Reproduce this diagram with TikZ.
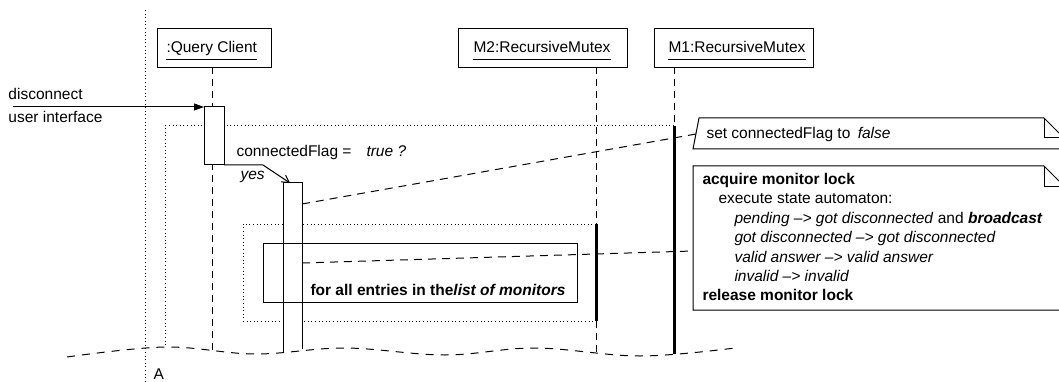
\documentclass[tikz,border=0pt]{standalone}
\usepackage{fontspec}
\setmainfont{Liberation Sans}
\usetikzlibrary{arrows.meta}
\begin{document}
\begin{tikzpicture}[x=1pt,y=-1pt,
  font=\fontsize{15.5}{19.4}\selectfont,
  line width=1pt,
  lifeline/.style={dash pattern=on 7pt off 5pt},
  frameline/.style={dash pattern=on 1pt off 2.6pt},
  msgdash/.style={dash pattern=on 8pt off 6pt},
  objbox/.style={draw,fill=white,inner sep=0pt,anchor=north west},
  lockbar/.style={line width=3pt},
  lbl/.style={anchor=base west,inner sep=0pt},
  notebody/.style={draw,fill=white},
]
\clip (0,0) rectangle (1059,382);
\fill[white] (0,0) rectangle (1059,382);

% --- named anchor points -------------------------------------------------
\coordinate (axisTop) at (145,10);
\coordinate (axisBot) at (145,382);
\coordinate (qcLifeTop) at (212,67);
\coordinate (qcLifeBot) at (212,351);
\coordinate (m2LifeTop) at (596,67);
\coordinate (m2LockTop) at (596,224);
\coordinate (m2LockBot) at (596,321);
\coordinate (m2LifeBot) at (596,352);
\coordinate (m1LifeTop) at (674,67);
\coordinate (m1LockTop) at (674,126);
\coordinate (m1LockBot) at (674,354);
\coordinate (callStart) at (13,107);
\coordinate (callEnd) at (204,107);
\coordinate (actOneNE) at (224,107);
\coordinate (actOneSW) at (204,165);
\coordinate (actOneSE) at (224,165);
\coordinate (flagBend) at (263,165);
\coordinate (flagTip) at (290,183);
\coordinate (actTwoTL) at (283,183);
\coordinate (actTwoTR) at (302,183);
\coordinate (actTwoBL) at (283,352);
\coordinate (actTwoBR) at (302,349);
\coordinate (actTwoOut1) at (302,204);
\coordinate (actTwoOut2) at (302,263);
\coordinate (noteOneIn) at (696,134);
\coordinate (noteTwoIn) at (693,251);

% --- time axis on the left ------------------------------------------------
\draw[frameline] (axisTop) -- (axisBot);
\node[lbl] (axisLabel) at (153,379) {A};

% --- dotted critical-region frames ----------------------------------------
\draw[frameline] (m1LockTop) -- (165,126) -- (165,347);
\draw[frameline] (m2LockTop) -- (243,224) -- (243,321) -- (m2LockBot);

% --- object heads ----------------------------------------------------------
\node[objbox,minimum width=114pt,minimum height=39pt] (qc) at (157,28) {};
\node[objbox,minimum width=169pt,minimum height=39pt] (m2) at (458,28) {};
\node[objbox,minimum width=159pt,minimum height=39pt] (m1) at (654,28) {};
\node[lbl] (qcName) at (166,52.5) {:Query Client};
\node[lbl] (m2Name) at (473,52.5) {M2:RecursiveMutex};
\node[lbl] (m1Name) at (668,52.5) {M1:RecursiveMutex};
\foreach \n in {qcName,m2Name,m1Name}
  \draw ([yshift=-6.8pt]\n.base west) -- ([yshift=-6.8pt]\n.base east);

% --- lifelines -------------------------------------------------------------
\draw[lifeline] (qcLifeTop) -- (qcLifeBot);
\draw[lifeline] (m2LifeTop) -- (m2LockTop);
\draw[lifeline] (m2LockBot) -- (m2LifeBot);
\draw[lifeline] (m1LifeTop) -- (m1LockTop);
\draw[lockbar] (m2LockTop) -- (m2LockBot);
\draw[lockbar] (m1LockTop) -- (m1LockBot);

% --- activations -----------------------------------------------------------
\fill[white] (actOneSW) rectangle (actOneNE);
\draw (actOneSW) rectangle (actOneNE);
\fill[white] (actTwoBL) -- (actTwoTL) -- (actTwoTR) -- (actTwoBR) -- cycle;
\draw (actTwoBL) -- (actTwoTL) -- (actTwoTR) -- (actTwoBR);

% --- loop box --------------------------------------------------------------
\draw (263,243) rectangle (577,302);
\node[lbl] (loopText) at (310,295) {\bfseries for all entries in the\textit{list of monitors}};

% --- messages --------------------------------------------------------------
\draw[-{Triangle[length=10pt,width=7pt]}] (callStart) -- (callEnd);
\node[lbl] (callText1) at (8,100) {disconnect};
\node[lbl] (callText2) at (8,122.5) {user interface};

\draw[-{Straight Barb[length=7pt,width=8pt]}] (actOneSE) -- (flagBend) -- (flagTip);
\node[lbl] (flagText) at (236,157) {connectedFlag =};
\node[lbl] (flagValue) at (366,157) {\itshape true ?};
\node[lbl] (flagYes) at (240,179) {\itshape yes};

\draw[msgdash] (actTwoOut1) -- (noteOneIn);
\draw[msgdash] (actTwoOut2) -- (noteTwoIn);

% --- notes -----------------------------------------------------------------
\draw[notebody] (699,118) -- (1044,118) -- (1064,138) -- (1064,149) -- (693,149) -- cycle;
\draw (1044,118) -- (1044,138) -- (1064,138);
\node[lbl] (noteOneText) at (706,138.5) {set connectedFlag to\hspace{0.2em} \textit{false}};

\draw[notebody] (693,166) -- (1044,166) -- (1064,186) -- (1064,310) -- (693,310) -- cycle;
\draw (1044,166) -- (1044,186) -- (1064,186);
\node[lbl] (l1) at (702,184.5) {\bfseries acquire monitor lock};
\node[lbl] (l2) at (718,203.9) {execute state automaton:};
\node[lbl] (l3) at (734,223.3) {\textit{pending –> got disconnected} and \textbf{\textit{broadcast}}};
\node[lbl] (l4) at (734,242.7) {\itshape got disconnected –> got disconnected};
\node[lbl] (l5) at (734,262.1) {\itshape valid answer –> valid answer};
\node[lbl] (l6) at (734,281.5) {\itshape invalid –> invalid};
\node[lbl] (l7) at (702,300.9) {\bfseries release monitor lock};

% --- cut-off wave ----------------------------------------------------------
\draw[dash pattern=on 8pt off 7pt] plot[smooth,tension=0.6] coordinates
  {(67,357) (165,347) (255,354) (345,348) (445,355) (535,348) (640,356) (735,348)};
\end{tikzpicture}
\end{document}
